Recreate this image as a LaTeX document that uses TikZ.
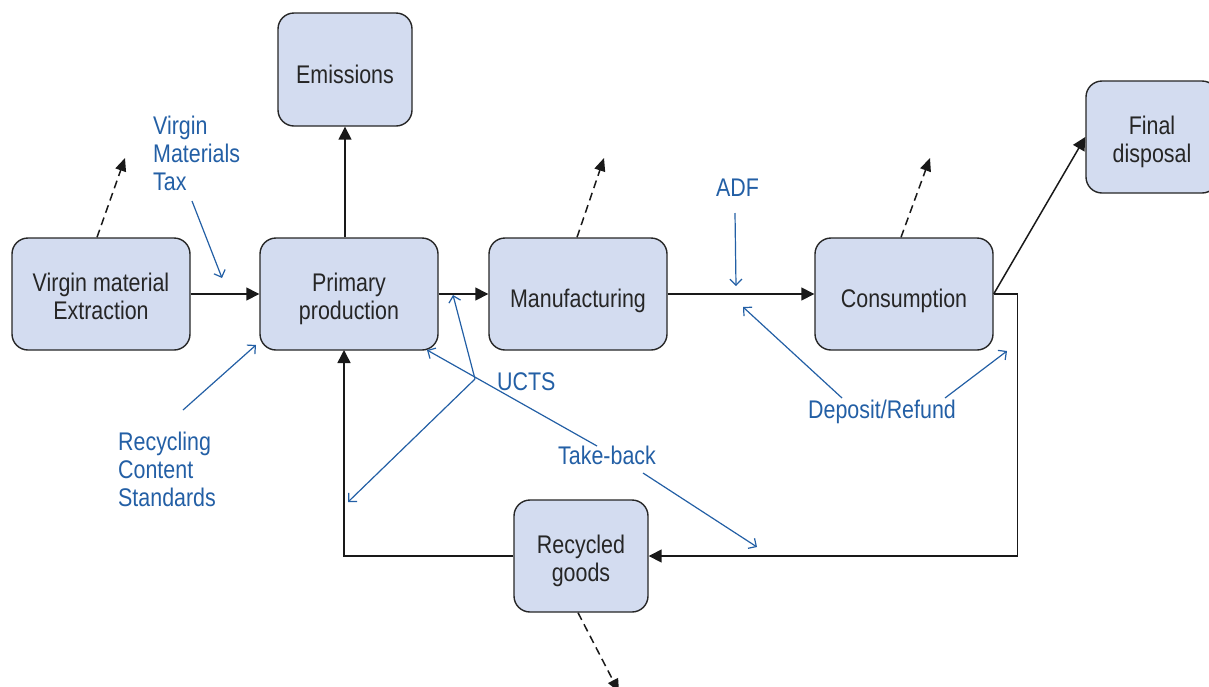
\documentclass[tikz,border=0pt]{standalone}
\usepackage{fontspec}
\setmainfont{Liberation Sans}[FakeStretch=0.84]
\usetikzlibrary{arrows.meta,calc}
\definecolor{boxfill}{RGB}{211,220,240}
\definecolor{ann}{RGB}{35,95,165}
\tikzset{
  stagebox/.style={draw=black!85, line width=1.4pt, fill=boxfill, rounded corners=16pt,
    align=center, inner sep=0pt, font=\fontsize{25.5}{28}\selectfont, text=black!85,
    execute at begin node={\rule[-6pt]{0pt}{39pt}},
    execute at end node={\rule[-6pt]{0pt}{39pt}}},
  twoline/.style={execute at begin node={\rule[-6pt]{0pt}{63pt}}},
  flow/.style={line width=1.5pt, draw=black!90, -{Triangle[length=13pt,width=13pt]}},
  loss/.style={line width=1.5pt, draw=black!90, dash pattern=on 8pt off 5pt, -{Triangle[length=13pt,width=11pt]}},
  policy/.style={line width=1.2pt, draw=ann, -{Straight Barb[length=6pt,width=12pt,line width=1.2pt]}},
  plabel/.style={text=ann, align=left, inner sep=0pt, font=\fontsize{25.5}{28}\selectfont, anchor=base west}
}
\begin{document}
\begin{tikzpicture}[x=1pt,y=-1pt]
\useasboundingbox (0,0) rectangle (1209,686);
\clip (0,0) rectangle (1209,686);
% boxes
\node[stagebox, twoline, minimum width=178pt, minimum height=112pt] (ext) at (101,294) {Virgin material\\Extraction};
\node[stagebox, twoline, minimum width=178pt, minimum height=112pt] (prim) at (349,294) {Primary\\production};
\node[stagebox, minimum width=134pt, minimum height=113pt] (em) at (345,69.5) {Emissions};
\node[stagebox, minimum width=178pt, minimum height=112pt] (man) at (578,294) {Manufacturing};
\node[stagebox, minimum width=178pt, minimum height=112pt] (cons) at (904,294) {Consumption};
\node[stagebox, twoline, minimum width=132pt, minimum height=112pt] (fin) at (1152,137) {Final\\disposal};
\node[stagebox, twoline, minimum width=134pt, minimum height=112pt] (rec) at (581,556) {Recycled\\goods};
% main flows
\draw[flow] (ext.east) -- (prim.west);
\draw[flow] (prim.north -| em.south) -- (em.south);
\draw[flow] (prim.east) -- (man.west);
\draw[flow] (man.east) -- (cons.west);
\draw[flow] (cons.east) -- (fin.west);
\draw[flow] (cons.east) -- ++(24,0) |- (rec.east);
\coordinate (retx) at (344,350);
\draw[flow] (rec.west) -| (retx);
% losses
\coordinate (l1) at (125,158);
\coordinate (l2) at (604,158);
\coordinate (l3) at (930,158);
\coordinate (l4) at (619,692);
\draw[loss] ([xshift=-4pt]ext.north) -- (l1);
\draw[loss] ([xshift=-1pt]man.north) -- (l2);
\draw[loss] ([xshift=-3pt]cons.north) -- (l3);
\draw[loss] ([xshift=-3pt]rec.south) -- (l4);
% policy labels
\node[plabel] (vmt) at (153,190) {Virgin\\Materials\\Tax};
\node[plabel] (rcs) at (118,506) {Recycling\\Content\\Standards};
\node[plabel] (ucts) at (497,390) {UCTS};
\node[plabel] (tb) at (558,464) {Take-back};
\node[plabel] (adf) at (716,196) {ADF};
\node[plabel] (dr) at (808,418) {Deposit/Refund};
% policy arrows
\coordinate (vmtS) at (192,201); \coordinate (vmtE) at (222,278);
\draw[policy] (vmtS) -- (vmtE);
\coordinate (rcsS) at (183,410); \coordinate (rcsE) at (256,345);
\draw[policy] (rcsS) -- (rcsE);
\coordinate (J) at (475,379);
\coordinate (uE1) at (453,295); \coordinate (uE2) at (348,502);
\draw[policy] (J) -- (uE1);
\draw[policy] (J) -- (uE2);
\coordinate (tbS1) at (597,446); \coordinate (tbE1) at (427,350);
\coordinate (tbS2) at (643,473); \coordinate (tbE2) at (757,547);
\draw[policy] (tbS1) -- (tbE1);
\draw[policy] (tbS2) -- (tbE2);
\coordinate (adfS) at (735,213); \coordinate (adfE) at (736,286);
\draw[policy] (adfS) -- (adfE);
\coordinate (drS1) at (842,398); \coordinate (drE1) at (743,307);
\coordinate (drS2) at (945,398); \coordinate (drE2) at (1007,351);
\draw[policy] (drS1) -- (drE1);
\draw[policy] (drS2) -- (drE2);
\end{tikzpicture}
\end{document}
